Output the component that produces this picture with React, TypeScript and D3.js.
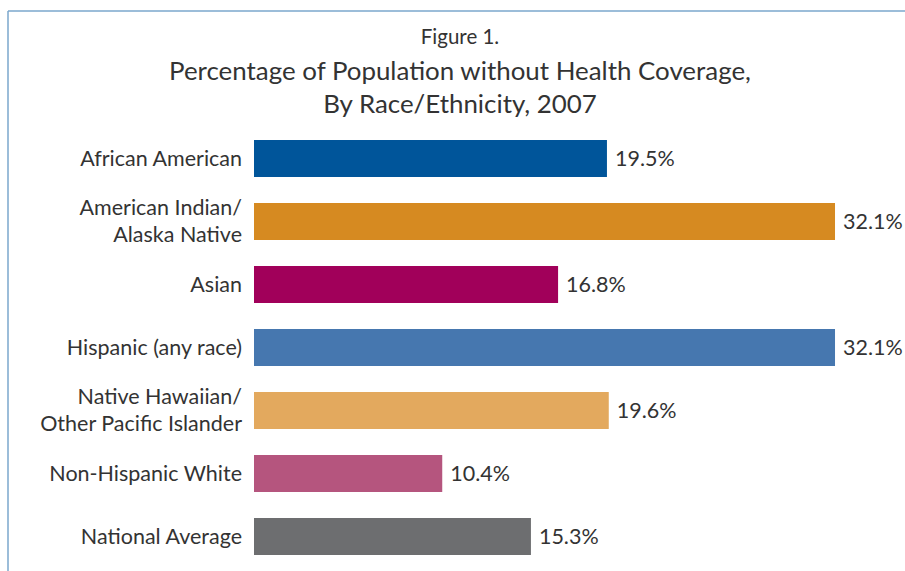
import React from "react";
import * as d3 from "d3";

const categories = [
  "African American",
  "American Indian/\nAlaska Native",
  "Asian",
  "Hispanic (any race)",
  "Native Hawaiian/\nOther Pacific Islander",
  "Non-Hispanic White",
  "National Average",
];
const values = [19.5, 32.1, 16.8, 32.1, 19.6, 10.4, 15.3];
const colors = ["#00559a", "#d68a21", "#a1005a", "#4677af", "#e3a95e", "#b5557e", "#6d6e70"];
const titleLines = ["Percentage of Population without Health Coverage,", "By Race/Ethnicity, 2007"];
const figureLabel = "Figure 1.";

const W = 905;
const H = 571;
const FONT = "Lato, 'Noto Sans', sans-serif";
const TEXT = "#333333";

export default function App() {
  const x = d3.scaleLinear().domain([0, 35]).range([254, 254 + 35 * 18.1]);
  const y = d3.scaleBand<string>().domain(categories).range([127, 568]).paddingInner(0.413).paddingOuter(0.2065);
  const bw = y.bandwidth();
  return (
    <svg width={W} height={H} style={{ position: "absolute", left: 0, top: 0, background: "#fff" }}>
      <rect x={0} y={0} width={W} height={H} fill="#fff" />
      <line x1={8} y1={11} x2={W} y2={11} stroke="#7ba7cc" strokeWidth={1.5} />
      <line x1={8} y1={11} x2={8} y2={H} stroke="#7ba7cc" strokeWidth={1.5} />
      <text x={460} y={44} textAnchor="middle" fontFamily={FONT} fontSize={20.5} fill={TEXT}>
        {figureLabel}
      </text>
      {titleLines.map((t, i) => (
        <text key={i} x={460} y={80 + i * 33} textAnchor="middle" fontFamily={FONT} fontSize={25.9} fill={TEXT}>
          {t}
        </text>
      ))}
      {categories.map((c, i) => {
        const y0 = y(c)!;
        const cy = y0 + bw / 2;
        const lines = c.split("\n");
        return (
          <g key={c}>
            <rect x={x(0)} y={y0} width={x(values[i]) - x(0)} height={bw} fill={colors[i]} />
            {lines.map((ln, j) => (
              <text
                key={j}
                x={242}
                y={cy + 7 + (j - (lines.length - 1) / 2) * 27}
                textAnchor="end"
                fontFamily={FONT}
                fontSize={21.5}
                fill={TEXT}
              >
                {ln}
              </text>
            ))}
            <text x={x(values[i]) + 8} y={cy + 7} fontFamily={FONT} fontSize={21.5} fill={TEXT}>
              {values[i].toFixed(1) + "%"}
            </text>
          </g>
        );
      })}
    </svg>
  );
}
